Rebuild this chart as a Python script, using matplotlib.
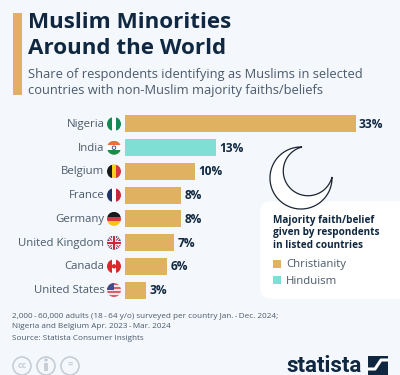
import numpy as np
import matplotlib
matplotlib.use("Agg")
import matplotlib.pyplot as plt
from matplotlib.patches import Circle, Rectangle, FancyBboxPatch, Polygon

plt.rcParams["font.family"] = ["Open Sans", "DejaVu Sans"]

countries = ["Nigeria", "India", "Belgium", "France", "Germany", "United Kingdom", "Canada", "United States"]
shares = [33, 13, 10, 8, 8, 7, 6, 3]
faiths = ["Christianity", "Hinduism", "Christianity", "Christianity", "Christianity", "Christianity", "Christianity", "Christianity"]
faith_colors = {"Christianity": "#dfb161", "Hinduism": "#7fdfd4"}

BG = "#f4f7fb"
NAVY = "#0f2740"
GREY = "#4a5a6c"

fig = plt.figure(figsize=(4, 3.75), dpi=100, facecolor=BG)

# overlay in pixel coordinates for the infographic furniture
ov = fig.add_axes([0, 0, 1, 1])
ov.set_xlim(0, 400)
ov.set_ylim(375, 0)
ov.axis("off")

# title block
ov.add_patch(Rectangle((12.5, 12.5), 9, 82, color="#dfb161", lw=0))
ov.text(27.5, 23, "Muslim Minorities", fontsize=16.1, fontweight="bold", color=NAVY, va="center")
ov.text(27.5, 48, "Around the World", fontsize=16.1, fontweight="bold", color=NAVY, va="center")
ov.text(27.5, 74.5, "Share of respondents identifying as Muslims in selected", fontsize=9.27, color=GREY, va="center")
ov.text(27.5, 90.5, "countries with non-Muslim majority faiths/beliefs", fontsize=9.27, color=GREY, va="center")

# bars
ax = fig.add_axes([125 / 400, 1 - 302 / 375, 275 / 400, 190 / 375])
ax.patch.set_alpha(0)
y = np.arange(len(countries))
ax.barh(y, shares, height=0.72, color=[faith_colors[f] for f in faiths])
ax.set_xlim(0, 275 / 6.985)
ax.set_ylim(len(countries) - 0.5, -0.5)
ax.axis("off")
for i, v in enumerate(shares):
    ax.text(v + 0.5, i - 0.04, f"{v}%", fontsize=8.6, fontweight="bold", color=NAVY, va="center_baseline")

rows_px = [124 + 23.72 * i for i in range(len(countries))]
for name, yp in zip(countries, rows_px):
    ov.text(104.5, yp + 0.5, name, fontsize=8.2, color=GREY, ha="right", va="center")


def stripes(cy, colors, vertical=False, cx=114, r=7):
    clip = Circle((cx, cy), r, transform=ov.transData)
    n = len(colors)
    for k, c in enumerate(colors):
        if vertical:
            p = Rectangle((cx - r + 2 * r * k / n, cy - r), 2 * r / n, 2 * r, color=c, lw=0)
        else:
            p = Rectangle((cx - r, cy - r + 2 * r * k / n), 2 * r, 2 * r / n, color=c, lw=0)
        ov.add_patch(p)
        p.set_clip_path(clip)


stripes(rows_px[0], ["#138a55", "#ffffff", "#138a55"], vertical=True)
stripes(rows_px[1], ["#e8703a", "#ffffff", "#1d8a45"])
ov.add_patch(Circle((114, rows_px[1]), 1.8, fc="none", ec="#2b3f7a", lw=0.6))
stripes(rows_px[2], ["#1a1a1a", "#f5d020", "#d9363e"], vertical=True)
stripes(rows_px[3], ["#1f3566", "#ffffff", "#c8283a"], vertical=True)
stripes(rows_px[4], ["#1a1a1a", "#d9363e", "#f5c518"])
stripes(rows_px[5], ["#27407f"])
clip_uk = Circle((114, rows_px[5]), 7, transform=ov.transData)
for x0, y0, x1, y1, c, w in [
    (107, -7, 121, 7, "#ffffff", 2.2), (107, 7, 121, -7, "#ffffff", 2.2),
    (107, -7, 121, 7, "#c8283a", 0.8), (107, 7, 121, -7, "#c8283a", 0.8),
    (114, -7, 114, 7, "#ffffff", 3.0), (107, 0, 121, 0, "#ffffff", 3.0),
    (114, -7, 114, 7, "#c8283a", 1.6), (107, 0, 121, 0, "#c8283a", 1.6),
]:
    ln, = ov.plot([x0, x1], [rows_px[5] + y0, rows_px[5] + y1], color=c, lw=w, solid_capstyle="butt")
    ln.set_clip_path(clip_uk)
stripes(rows_px[6], ["#d52b2b", "#ffffff", "#d52b2b"], vertical=True)
ov.add_patch(Circle((114, rows_px[6]), 2.2, color="#d52b2b", lw=0))
stripes(rows_px[7], ["#d9606a", "#f4e4e4", "#d9606a", "#f4e4e4", "#d9606a", "#f4e4e4", "#d9606a"])
p = Rectangle((107, rows_px[7] - 7), 7, 7, color="#3d4f8a", lw=0)
ov.add_patch(p)
p.set_clip_path(Circle((114, rows_px[7]), 7, transform=ov.transData))

# legend box
ov.add_patch(FancyBboxPatch((266, 207), 150, 86, boxstyle="round,pad=0,rounding_size=4", fc="#ffffff", ec="#ffffff", lw=8))
for yp, line in zip([220.5, 233, 245.5], ["Majority faith/belief", "given by respondents", "in listed countries"]):
    ov.text(273, yp, line, fontsize=7.2, fontweight="bold", color=NAVY, va="center")
for yp, name in zip([263.5, 280], faith_colors):
    ov.add_patch(Rectangle((273, yp - 4), 8, 8, color=faith_colors[name], lw=0))
    ov.text(286, yp + 1, name, fontsize=8.2, color=GREY, va="center")

# crescent, drawn over the top edge of the legend box
oc, ic = (301.0, 178.0), (308.0, 171.0)
tip_a, tip_b = (302.0, 147.0), (332.0, 177.0)
outer_r = np.hypot(tip_a[0] - oc[0], tip_a[1] - oc[1])
inner_r = np.hypot(tip_a[0] - ic[0], tip_a[1] - ic[1])
a0 = np.arctan2(tip_a[1] - oc[1], tip_a[0] - oc[0])
a1 = np.arctan2(tip_b[1] - oc[1], tip_b[0] - oc[0])
b0 = np.arctan2(tip_b[1] - ic[1], tip_b[0] - ic[0])
b1 = np.arctan2(tip_a[1] - ic[1], tip_a[0] - ic[0])
outer_t = np.linspace(a0, a1 - 2 * np.pi, 80)
inner_t = np.linspace(b0, b1 + 2 * np.pi, 80)
pts = np.vstack([
    np.c_[oc[0] + outer_r * np.cos(outer_t), oc[1] + outer_r * np.sin(outer_t)],
    np.c_[ic[0] + inner_r * np.cos(inner_t), ic[1] + inner_r * np.sin(inner_t)],
])
ov.add_patch(Polygon(pts, closed=True, fc="#ffffff", ec="#1a2433", lw=0.9, zorder=5))

# footer
ov.text(12.5, 316, "2,000\u2009-\u200960,000 adults (18\u2009-\u200964 y/o) surveyed per country Jan.\u2009-\u2009Dec. 2024;", fontsize=5.9, color=GREY, va="center")
ov.text(12.5, 326, "Nigeria and Belgium Apr. 2023\u2009-\u2009Mar. 2024", fontsize=5.9, color=GREY, va="center")
ov.text(12.5, 339, "Source: Statista Consumer Insights", fontsize=5.9, color=GREY, va="center")

for cx, label in zip([22, 46, 70], ["cc", "", "="]):
    ov.add_patch(Circle((cx, 366), 9, fc="none", ec="#c7ced6", lw=1.2))
    if label:
        ov.text(cx, 365.5, label, fontsize=6.5, fontweight="bold", color="#c7ced6", ha="center", va="center")
ov.add_patch(Circle((46, 360), 1.7, color="#c7ced6", lw=0))
ov.add_patch(Rectangle((44, 363), 4, 8, color="#c7ced6", lw=0))

# logo
ov.text(362, 372.5, "statista", fontsize=16, fontweight="bold", family="Roboto", color=NAVY, ha="right", va="baseline")
ov.add_patch(Rectangle((368, 356), 20, 18.5, color=NAVY, lw=0))
ov.plot([368, 375, 381, 388], [369, 369, 360, 360], color="#ffffff", lw=2.2, solid_capstyle="butt")

fig.savefig("out.png", dpi=100, facecolor=BG)
